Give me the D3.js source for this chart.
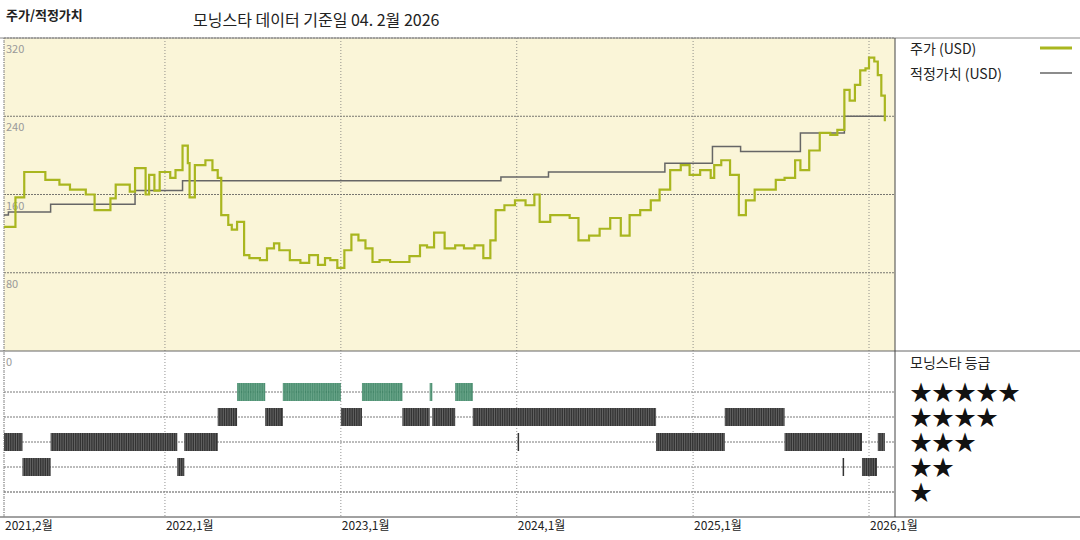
<!DOCTYPE html>
<html>
<head>
  <meta charset="utf8">
  <script src="https://d3js.org/d3.v7.min.js"></script>
  <style>
    body { margin: 0; background: #fff; }
    text { font-family: "Noto Sans CJK KR", sans-serif; }
  </style>
</head>
<body>
  <svg id="chart" width="1080" height="540"></svg>
  <script>
    // price (decimal year, USD)
    var priceT = [2021.085,2021.15,2021.20,2021.32,2021.40,2021.46,2021.55,2021.60,2021.69,2021.72,2021.80,2021.83,2021.89,2021.91,2021.94,2021.97,2022.03,2022.06,2022.10,2022.13,2022.14,2022.17,2022.23,2022.27,2022.30,2022.32,2022.36,2022.38,2022.41,2022.45,2022.48,2022.54,2022.58,2022.62,2022.65,2022.71,2022.77,2022.82,2022.87,2022.91,2022.94,2022.98,2023.02,2023.06,2023.10,2023.14,2023.18,2023.22,2023.28,2023.34,2023.39,2023.45,2023.49,2023.53,2023.59,2023.65,2023.70,2023.76,2023.81,2023.85,2023.88,2023.93,2023.99,2024.05,2024.10,2024.13,2024.19,2024.24,2024.30,2024.35,2024.41,2024.47,2024.53,2024.59,2024.64,2024.70,2024.76,2024.81,2024.87,2024.93,2024.98,2025.04,2025.10,2025.12,2025.16,2025.21,2025.26,2025.30,2025.35,2025.41,2025.47,2025.52,2025.58,2025.61,2025.66,2025.72,2025.78,2025.82,2025.86,2025.89,2025.92,2025.95,2025.98,2026.00,2026.03,2026.05,2026.07,2026.09];
    var priceV = [127,157,183,175,170,165,160,144,156,170,163,187,160,180,164,183,177,185,210,192,157,190,195,185,177,139,129,124,132,98,95,93,105,110,103,93,90,98,88,95,93,85,103,119,113,105,91,93,91,91,97,108,106,121,105,108,105,108,95,113,144,149,154,149,160,132,139,139,136,113,118,125,136,118,139,144,154,165,185,190,180,185,177,190,195,180,139,154,165,165,175,177,195,185,205,223,221,226,267,256,272,287,289,300,296,282,261,235];
    // fair value steps (start decimal year, USD)
    var fairT = [2021.085,2021.11,2021.35,2021.83,2022.10,2023.91,2024.18,2024.84,2025.11,2025.27,2025.61,2025.86,2026.09];
    var fairV = [139,142,150,164,174,178,183,192,209,204,223,240,240];
    // morningstar rating periods
    var ratingStart = [2022.41,2022.67,2023.12,2023.505,2023.65, 2022.30,2022.57,2023.00,2023.35,2023.52,2023.75,2025.18, 2021.085,2021.35,2022.11,2024.005,2024.79,2025.52,2026.05, 2021.19,2022.07,2025.85,2025.96];
    var ratingEnd   = [2022.57,2023.00,2023.35,2023.52,2023.75, 2022.41,2022.67,2023.12,2023.505,2023.65,2024.79,2025.52, 2021.19,2022.07,2022.30,2024.01,2025.18,2025.96,2026.09, 2021.35,2022.11,2025.855,2026.045];
    var ratingStars = [5,5,5,5,5, 4,4,4,4,4,4,4, 3,3,3,3,3,3,3, 2,2,2,2];
    var yTicks = [320, 240, 160, 80];
    var xTickDates = ['2021-02-01','2022-01-01','2023-01-01','2024-01-01','2025-01-01','2026-01-01'];
    var xTickLabels = ['2021,2월','2022,1월','2023,1월','2024,1월','2025,1월','2026,1월'];

    (function () {
    function toDate(t) {
      var yr = Math.floor(t);
      var a = new Date(yr, 0, 1), b = new Date(yr + 1, 0, 1);
      return new Date(+a + (t - yr) * (b - a));
    }

    var svg = d3.select('#chart');
    var pL = 4, pR = 895, pT = 38, pM = 351, pB = 517;

    var x = d3.scaleTime().domain([new Date(2021, 1, 1), new Date(2026, 0, 1)]).range([pL, 869]);
    var y = d3.scaleLinear().domain([0, 320]).range([pM, pT]);
    var yStar = d3.scaleLinear().domain([5, 1]).range([392, 492]);

    svg.append('rect').attr('x', pL).attr('y', pT).attr('width', pR - pL).attr('height', pM - pT).attr('fill', '#faf5d8');

    // horizontal grid
    svg.selectAll('.hg').data(yTicks).enter().append('line')
      .attr('x1', pL).attr('x2', pR).attr('y1', d => y(d)).attr('y2', d => y(d))
      .attr('stroke', '#555').attr('stroke-dasharray', '2,1').attr('stroke-width', 0.8);
    svg.selectAll('.sg').data([5, 4, 3, 2, 1]).enter().append('line')
      .attr('x1', pL).attr('x2', pR).attr('y1', d => yStar(d)).attr('y2', d => yStar(d))
      .attr('stroke', '#555').attr('stroke-dasharray', '2,1').attr('stroke-width', d => d === 1 ? 1.2 : 0.8);
    svg.selectAll('.yl').data(yTicks).enter().append('text')
      .attr('x', pL + 2).attr('y', d => y(d) + 15).attr('font-size', 11).attr('fill', '#999').text(d => d);
    svg.append('text').attr('x', pL + 2).attr('y', pM + 15).attr('font-size', 11).attr('fill', '#999').text('0');

    // vertical grid
    svg.selectAll('.vg').data(xTickDates).enter().append('line')
      .attr('x1', d => x(new Date(d))).attr('x2', d => x(new Date(d)))
      .attr('y1', pT).attr('y2', pB)
      .attr('stroke', '#777').attr('stroke-dasharray', '1,2').attr('stroke-width', 0.8);
    svg.selectAll('.xl').data(xTickDates).enter().append('text')
      .attr('x', d => x(new Date(d)) + 1).attr('y', 530).attr('font-size', 12).attr('fill', '#222')
      .text((d, i) => xTickLabels[i]);

    // frame
    svg.append('line').attr('x1', 0).attr('x2', 1080).attr('y1', pT).attr('y2', pT).attr('stroke', '#888');
    svg.append('line').attr('x1', 0).attr('x2', 1080).attr('y1', pM).attr('y2', pM).attr('stroke', '#666');
    svg.append('line').attr('x1', 0).attr('x2', 1080).attr('y1', pB).attr('y2', pB).attr('stroke', '#444');
    svg.append('line').attr('x1', pR).attr('x2', pR).attr('y1', pT).attr('y2', pB).attr('stroke', '#444');
    svg.append('line').attr('x1', pL).attr('x2', pL).attr('y1', pT).attr('y2', pB).attr('stroke', '#888').attr('stroke-dasharray', '1,1');

    // rating bars
    var ratings = ratingStars.map((s, i) => ({ s: s, a: toDate(ratingStart[i]), b: toDate(ratingEnd[i]) }));
    var rg = svg.append('g');
    ratings.forEach(function (r) {
      var x0 = x(r.a), x1 = Math.max(x(r.b), x0 + 1.5);
      var col = r.s === 5 ? '#2f7d5a' : '#333';
      rg.append('rect').attr('x', x0).attr('y', yStar(r.s) - 9).attr('width', x1 - x0).attr('height', 18)
        .attr('fill', col).attr('opacity', r.s === 5 ? 0.85 : 1);
      for (var xx = x0 + 1; xx < x1 - 0.5; xx += 2.3) {
        rg.append('line').attr('x1', xx).attr('x2', xx).attr('y1', yStar(r.s) - 9).attr('y2', yStar(r.s) + 9)
          .attr('stroke', r.s === 5 ? '#7fb59a' : '#888').attr('stroke-width', 0.6);
      }
    });

    // fair value
    var fair = fairT.map((t, i) => ({ d: toDate(t), v: fairV[i] }));
    svg.append('path').datum(fair)
      .attr('d', d3.line().curve(d3.curveStepAfter).x(d => x(d.d)).y(d => y(d.v)))
      .attr('fill', 'none').attr('stroke', '#666').attr('stroke-width', 1.5);

    // price
    var price = priceT.map((t, i) => ({ d: toDate(t), v: priceV[i] }));
    svg.append('path').datum(price)
      .attr('d', d3.line().curve(d3.curveStepAfter).x(d => x(d.d)).y(d => y(d.v)))
      .attr('fill', 'none').attr('stroke', '#a9b61f').attr('stroke-width', 2.2);

    // titles
    svg.append('text').attr('x', 6).attr('y', 20).attr('font-size', 13).attr('font-weight', 'bold').attr('fill', '#222').text('주가/적정가치');
    svg.append('text').attr('x', 193).attr('y', 26).attr('font-size', 16).attr('fill', '#222').text('모닝스타 데이터 기준일 04. 2월 2026');

    // legend
    svg.append('text').attr('x', 910).attr('y', 54).attr('font-size', 14).attr('fill', '#222').text('주가 (USD)');
    svg.append('line').attr('x1', 1040).attr('x2', 1072).attr('y1', 48).attr('y2', 48).attr('stroke', '#a9b61f').attr('stroke-width', 3);
    svg.append('text').attr('x', 910).attr('y', 79).attr('font-size', 14).attr('fill', '#222').text('적정가치 (USD)');
    svg.append('line').attr('x1', 1040).attr('x2', 1072).attr('y1', 73).attr('y2', 73).attr('stroke', '#666').attr('stroke-width', 1.5);
    svg.append('text').attr('x', 910).attr('y', 368).attr('font-size', 14).attr('fill', '#222').text('모닝스타 등급');
    svg.selectAll('.st').data([5, 4, 3, 2, 1]).enter().append('text')
      .attr('x', 910).attr('y', d => yStar(d) + 8).attr('font-size', 22).attr('fill', '#111')
      .attr('font-family', 'DejaVu Sans').text(d => '★'.repeat(d));
    })();
  </script>
</body>
</html>
